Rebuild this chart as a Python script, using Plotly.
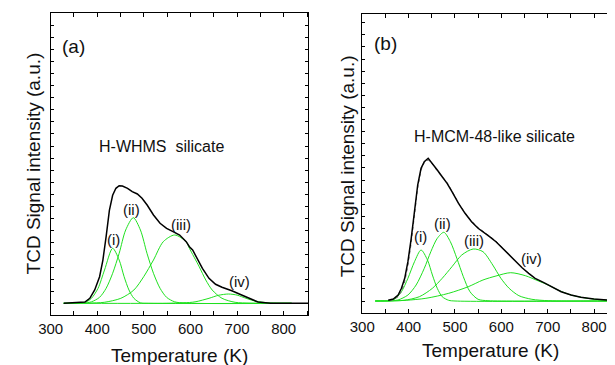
import plotly.graph_objects as go

# The page body has an 8 px margin, so the figure is laid out in page pixels minus 8.
OFF = 8
W, H = 615 - OFF, 365 - OFF
FONT = "Liberation Sans, Arial, sans-serif"
GREEN = "#1fe01f"

# ---------------- Panel (a): H-WHMS silicate ----------------
a_exp_T = [328, 373.5, 384, 394.5, 405, 412, 419, 426, 433, 440, 447, 454, 465, 475, 486, 496,
           507, 520.6, 534.7, 548.7, 562.6, 576.7, 590.8, 597.7, 604.6, 611.8, 625.6, 639.7,
           653.8, 667.6, 688.7, 709.7, 730.7, 744.7, 772, 853]
a_exp_I = [0, 1.3, 5, 13.3, 26.6, 43, 66.6, 93, 108, 115, 117.6, 117.3, 115, 111.6, 109.3, 105,
           98.3, 88.3, 80, 75, 71.6, 68.3, 61.6, 56.6, 53.3, 46.6, 35, 25,
           19, 16, 12.6, 8.3, 4, 1.3, 0, 0]

a_p1_T = [328, 365, 377, 387.6, 401.7, 415.6, 433, 447, 457.6, 468, 478.6, 492.6, 510, 817]
a_p1_I = [0, 0.2, 1.5, 5, 15, 33.3, 55, 43.3, 26.6, 13.3, 5, 0.5, 0, 0]

a_p2_T = [328, 370, 387.6, 405, 419, 433, 447, 461, 477.3, 492.6, 506.7, 520.6, 534.7, 548.7, 566, 590, 817]
a_p2_I = [0, 0.2, 1.5, 6, 15, 30, 50, 73.3, 85.6, 73.3, 50, 30, 15, 6, 1.5, 0.2, 0]

a_p3_T = [328, 380, 415, 450.6, 478.6, 499.6, 520.6, 541.6, 566, 590.8, 597.7, 618.7, 632.8,
          646.6, 667.6, 695.7, 730, 817]
a_p3_I = [0, 0.2, 1, 5, 13.3, 26.6, 43.3, 61.6, 68.3, 61.6, 55, 36.6, 23.3,
          13.3, 5, 1, 0.2, 0]

a_p4_T = [328, 540, 570, 597.7, 611.8, 639.7, 660, 681.7, 700, 709.7, 737.8, 766, 790, 817]
a_p4_I = [0, 0, 0.3, 0.8, 1.6, 5, 8, 9.3, 8.2, 6.6, 2.3, 0.5, 0.1, 0]

# ---------------- Panel (b): H-MCM-48-like silicate ----------------
b_exp_T = [356, 367, 377.4, 384.6, 391.6, 398.5, 405.6, 412.7, 419.6, 426.8, 433.8, 442.2, 451.3,
           461.8, 472.4, 483, 493.5, 507.6, 521.7, 535.7, 549.8, 560.3, 574.5, 588.4, 602.5,
           616.7, 630.6, 644.7, 658.9, 672.8, 690.5, 708, 729, 750.2, 771.3, 799.4, 827.6, 845]
b_exp_I = [0.7, 2, 6, 12.7, 22.7, 39.3, 62.7, 89.3, 116, 132.7, 139.3, 142.7, 137.7,
           131, 124.3, 117.7, 109.3, 97.7, 87.7, 79.3, 72.7, 69.5, 64.3, 59.3, 52.7,
           46, 39.3, 33.3, 27.7, 22.7, 18.7, 14.3, 9.3, 6, 3.7, 2, 0.7, 0.3]

b_fit_T = [360, 367, 377.4, 384.6, 391.6, 398.5, 405.6, 412.7, 419.6, 426.8, 433.8, 442.2, 451.3,
           461.8, 472.4, 483, 493.5, 507.6, 521.7, 535.7, 549.8, 560.3, 574.5, 588.4, 602.5]
b_fit_I = [0.5, 1.2, 4.2, 9.5, 19, 35, 58, 86, 113, 131, 138.5, 141, 137,
           130, 124, 118.5, 110, 98, 88, 80, 73.5, 70, 65.5, 60, 53]

b_p1_T = [328, 360, 370.5, 384.6, 398.5, 412.7, 426.8, 440.7, 451.3, 461.8, 472.4, 486.5, 500, 845]
b_p1_I = [0, 0.3, 2, 9.3, 22.7, 39.3, 51, 41, 26, 12.7, 4.3, 0.7, 0, 0]

b_p2_T = [328, 360, 377, 398.5, 416.2, 433.8, 447.9, 461.8, 476, 490, 504, 518, 532.3, 549.8, 571, 600, 845]
b_p2_I = [0, 0.2, 1, 6, 16, 32.7, 49.3, 62.7, 68.7, 59.3, 42.7, 24.3, 9.3, 1.7, 0.3, 0, 0]

b_p3_T = [328, 360, 390, 423.2, 451.3, 472.4, 493.5, 514.6, 539.2, 560.3, 581.4, 599, 616.7,
          637.8, 665.8, 701, 740, 845]
b_p3_I = [0, 0.2, 0.7, 4.3, 12.7, 22.7, 34.3, 46, 52, 49.3, 36, 22.7, 12.7,
          5.3, 1.7, 0.3, 0, 0]

b_p4_T = [328, 370, 395, 437.3, 486.5, 528.7, 560.3, 588.4, 620, 651.7, 680, 701, 722, 750,
          785, 827.6, 845]
b_p4_I = [0, 0.2, 0.7, 2.7, 7.7, 14.3, 21, 25, 28.3, 25.3, 20, 16, 11, 6,
          2.7, 0.7, 0.4]

x_tick_vals = [300, 400, 500, 600, 700, 800]
x_tick_text = ["300", "400", "500", "600", "700", "800"]

fig = go.Figure()


def add_panel(xa, ya, exp_T, exp_I, peaks, fit=None):
    for (pT, pI) in peaks:
        fig.add_trace(go.Scatter(x=pT, y=pI, mode="lines", xaxis=xa, yaxis=ya,
                                 line=dict(color=GREEN, width=1, shape="spline", smoothing=0.8),
                                 hoverinfo="skip", showlegend=False))
    if fit is not None:
        fig.add_trace(go.Scatter(x=fit[0], y=fit[1], mode="lines", xaxis=xa, yaxis=ya,
                                 line=dict(color="#777777", width=1, dash="dot"),
                                 showlegend=False))
    fig.add_trace(go.Scatter(x=exp_T, y=exp_I, mode="lines", xaxis=xa, yaxis=ya,
                             line=dict(color="black", width=1.5),
                             showlegend=False))


add_panel("x", "y", a_exp_T, a_exp_I,
          [(a_p1_T, a_p1_I), (a_p2_T, a_p2_I), (a_p3_T, a_p3_I), (a_p4_T, a_p4_I)])
add_panel("x2", "y2", b_exp_T, b_exp_I,
          [(b_p1_T, b_p1_I), (b_p2_T, b_p2_I), (b_p3_T, b_p3_I), (b_p4_T, b_p4_I)],
          fit=(b_fit_T, b_fit_I))


def xdom(x0, x1):
    return [(x0 - OFF) / W, min(1.0, (x1 - OFF) / W)]


def ydom(ybot, ytop):
    return [1 - (ybot - OFF) / H, 1 - (ytop - OFF) / H]


def xax(domain, rng, anchor, mirror):
    return dict(domain=domain, range=rng, anchor=anchor, showgrid=False, zeroline=False,
                showline=True, linecolor="black", linewidth=1, mirror=mirror,
                ticks="inside", ticklen=4, tickcolor="black",
                tickvals=x_tick_vals, ticktext=x_tick_text,
                minor=dict(dtick=50, tick0=0, ticks="inside", ticklen=4, tickcolor="black"),
                tickfont=dict(family=FONT, size=15, color="#111111"))


def yax(domain, rng, anchor, mirror):
    return dict(domain=domain, range=rng, anchor=anchor, showgrid=False, zeroline=False,
                showline=True, linecolor="black", linewidth=1, mirror=mirror,
                ticks="inside", ticklen=3, tickcolor="black", tick0=0, dtick=12.1,
                showticklabels=False)


fig.update_layout(
    width=W, height=H, margin=dict(l=0, r=0, t=0, b=0),
    paper_bgcolor="white", plot_bgcolor="white",
    xaxis=xax(xdom(38.3, 301.7), [300, 853], "y", "ticks"),
    yaxis=yax(ydom(314.5, 12.5), [-11.2, 290.8], "x", "ticks"),
    xaxis2=xax(xdom(356.7, 615), [300, 845], "y2", "ticks"),
    yaxis2=yax(ydom(313.3, 14.3), [-12.3, 286.7], "x2", False),
)


def note(text, px, py, size, angle=0):
    fig.add_annotation(text=text, x=(px - OFF) / W, y=1 - (py - OFF) / H,
                       xref="paper", yref="paper",
                       xanchor="center", yanchor="middle", showarrow=False, textangle=angle,
                       font=dict(family=FONT, size=size, color="#111111"))


note("(a)", 62, 46.7, 19)
note("H-WHMS&nbsp;&nbsp;silicate", 152, 146.7, 16)
note("(i)", 102.3, 239.3, 15)
note("(ii)", 121, 209.3, 15)
note("(iii)", 171, 225, 15)
note("(iv)", 231.7, 281, 15)
note("Temperature (K)", 170, 355, 19)
note("TCD Signal intensity (a.u.)", 20.7, 163, 19, -90)

note("(b)", 380, 43.3, 19)
note("H-MCM-48-like silicate", 491.7, 136.7, 16)
note("(i)", 416.7, 236.7, 15)
note("(ii)", 439, 223.3, 15)
note("(iii)", 471, 240, 15)
note("(iv)", 530, 258.3, 15)
note("Temperature (K)", 487.7, 350, 19)
note("TCD Signal intensity (a.u.)", 341.7, 166.7, 19, -90)

fig.write_html("out.html")
